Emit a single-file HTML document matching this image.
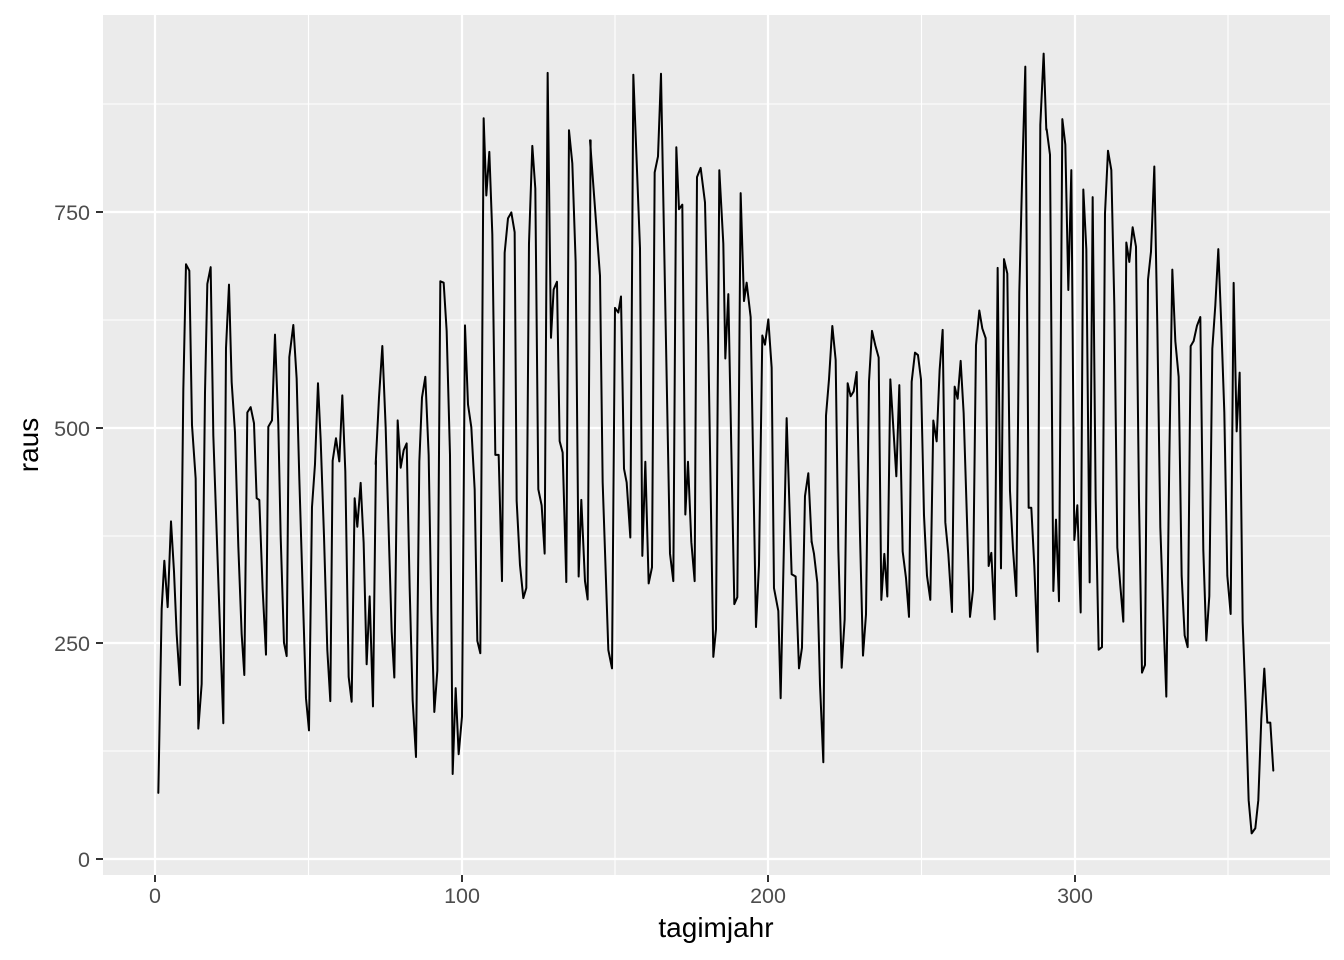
<!DOCTYPE html>
<html><head><meta charset="utf-8"><style>
html,body{margin:0;padding:0;background:#fff;}
svg{display:block;font-family:"Liberation Sans",Arial,sans-serif;}
</style></head><body>
<svg width="1344" height="960" viewBox="0 0 1344 960" xmlns="http://www.w3.org/2000/svg">
<rect x="0" y="0" width="1344" height="960" fill="#fff"/>
<rect x="103" y="15" width="1227" height="860" fill="#EBEBEB"/>
<g stroke="#fff" stroke-width="1.1">
<line x1="103" x2="1330" y1="751" y2="751"/><line x1="103" x2="1330" y1="536" y2="536"/><line x1="103" x2="1330" y1="320" y2="320"/><line x1="103" x2="1330" y1="104" y2="104"/>
<line y1="15" y2="875" x1="308.5" x2="308.5"/><line y1="15" y2="875" x1="615" x2="615"/><line y1="15" y2="875" x1="921.5" x2="921.5"/><line y1="15" y2="875" x1="1228" x2="1228"/>
</g>
<g stroke="#fff" stroke-width="2.2">
<line x1="103" x2="1330" y1="859" y2="859"/><line x1="103" x2="1330" y1="643" y2="643"/><line x1="103" x2="1330" y1="428" y2="428"/><line x1="103" x2="1330" y1="212" y2="212"/>
<line y1="15" y2="875" x1="155" x2="155"/><line y1="15" y2="875" x1="462" x2="462"/><line y1="15" y2="875" x1="768" x2="768"/><line y1="15" y2="875" x1="1075" x2="1075"/>
</g>
<g fill="none" stroke="#000" stroke-width="2" stroke-linejoin="round" stroke-linecap="round">
<polyline vector-effect="non-scaling-stroke" transform="translate(150,250) scale(0.3333,0.35714)" points="25,1520 35,1005 43,870 53,1000 63,760 72,900 80,1075 90,1218 100,390 108,40 118,58 126,490 137,640 145,1340 155,1215 165,400 172,95 182,48 190,520 200,790 210,1060 220,1325 228,275 237,97 245,370 255,510 265,830 275,1075 283,1190 292,455 302,440 312,485 320,695 328,700 338,950 348,1133 355,495 366,477 375,237 385,490 392,800 402,1100 410,1137 418,300 430,210 440,360 448,640 458,950 468,1255 477,1345 486,720 495,600 504,373 512,530 522,800 532,1120 541,1263 548,590 558,527 568,592 577,407 586,620 596,1195 605,1265 614,695 622,775 632,652 641,820 650,1160 659,970 669,1278 678,590"/>
<polyline vector-effect="non-scaling-stroke" transform="translate(370,60) scale(0.3333,0.45914)" points="17,880 27,735 37,623 47,800 57,1050 65,1245 73,1345 83,785 92,888 101,850 110,835 119,1150 128,1395 138,1518 148,875 156,735 166,690 176,860 184,1200 193,1420 202,1330 211,482 221,485 230,590 240,860 248,1555 257,1368 266,1512 276,1430 285,578 294,750 304,800 314,935 322,1265 331,1292 341,127 349,295 358,200 367,380 376,860 386,860 396,1135 404,420 414,345 424,332 434,375 440,960 450,1100 460,1172 469,1150 477,400 487,187 496,280 505,935 515,970 524,1075 533,28 543,605 551,500 561,483 569,830 578,855 589,1137 597,153 607,225 617,440 626,1125 634,958 645,1135 653,1175 662,175"/>
<polyline vector-effect="non-scaling-stroke" transform="translate(590,60) scale(0.3333,0.45914)" points="0,175 30,470 38,920 55,1285 66,1325 75,540 85,550 93,515 102,890 110,920 121,1040 130,32 150,410 157,1080 166,875 176,1140 186,1105 194,245 204,210 213,30 225,500 240,1075 250,1135 259,190 267,325 277,315 286,990 294,875 304,1050 314,1135 321,255 332,235 345,310 355,620 370,1300 378,1240 388,240 400,400 406,650 415,510 433,1185 442,1170 452,290 462,525 470,485 482,560 498,1235 507,1100 517,600 525,620 535,565 545,670 552,1150 565,1200 572,1390 590,780 605,1120 617,1125 627,1325 636,1280 645,950 655,900 665,1050"/>
<polyline vector-effect="non-scaling-stroke" transform="translate(810,40) scale(0.3333,0.48474)" points="5,1035 12,1060 22,1120 30,1330 40,1490 48,775 57,700 67,590 77,660 85,1050 95,1295 104,1195 113,708 122,735 131,725 140,685 150,1020 159,1270 168,1185 177,705 186,600 196,630 206,655 214,1155 223,1060 232,1148 241,700 250,800 259,900 268,712 278,1055 288,1110 297,1190 305,705 315,645 324,650 333,700 342,980 351,1105 361,1155 370,785 380,828 389,680 398,598 406,995 415,1060 426,1180 434,715 443,740 452,662 461,770 471,990 480,1190 489,1135 498,630 508,558 517,595 527,615 536,1085 544,1058 554,1195 563,470 573,1090 582,452 592,482 600,930 609,1050 619,1147 628,520 637,270 646,55 656,965 664,965 673,1085 683,1262 691,175 701,28 709,185"/>
<polyline vector-effect="non-scaling-stroke" transform="translate(1040,40) scale(0.3333,0.5102)" points="20,175 30,225 40,1080 48,940 57,1100 67,155 76,205 85,490 94,255 103,980 112,912 122,1122 130,293 139,410 149,1063 158,308 167,900 176,1195 186,1190 195,340 204,217 214,255 223,520 232,995 241,1070 250,1140 259,397 268,435 278,367 288,405 297,900 306,1240 315,1225 324,470 333,415 343,248 352,560 361,955 370,1125 379,1287 388,820 397,450 406,590 416,660 425,1050 434,1167 443,1190 452,600 461,590 471,560 481,543 490,1000 499,1177 508,1090 517,605 526,520 535,410 544,560 553,730 562,1050 572,1125 581,476 590,767 599,652 608,1140 617,1300 626,1490 635,1555 646,1545 655,1490 664,1330 673,1232 682,1338 691,1338 700,1432"/>
</g>
<g stroke="#333" stroke-width="2">
<line x1="96" x2="103" y1="859" y2="859"/><line x1="96" x2="103" y1="643" y2="643"/><line x1="96" x2="103" y1="428" y2="428"/><line x1="96" x2="103" y1="212" y2="212"/>
<line y1="875" y2="882" x1="155" x2="155"/><line y1="875" y2="882" x1="462" x2="462"/><line y1="875" y2="882" x1="768" x2="768"/><line y1="875" y2="882" x1="1075" x2="1075"/>
</g>
<g fill="#4D4D4D" font-size="21.5" text-anchor="end">
<text x="90" y="867">0</text><text x="90" y="651">250</text><text x="90" y="436">500</text><text x="90" y="220">750</text>
</g>
<g fill="#4D4D4D" font-size="21.5" text-anchor="middle">
<text x="155" y="903">0</text><text x="462" y="903">100</text><text x="768" y="903">200</text><text x="1075" y="903">300</text>
</g>
<text x="716" y="937" font-size="28" text-anchor="middle" fill="#000">tagimjahr</text>
<text transform="translate(38,445) rotate(-90)" font-size="28" text-anchor="middle" fill="#000">raus</text>
</svg>
</body></html>
